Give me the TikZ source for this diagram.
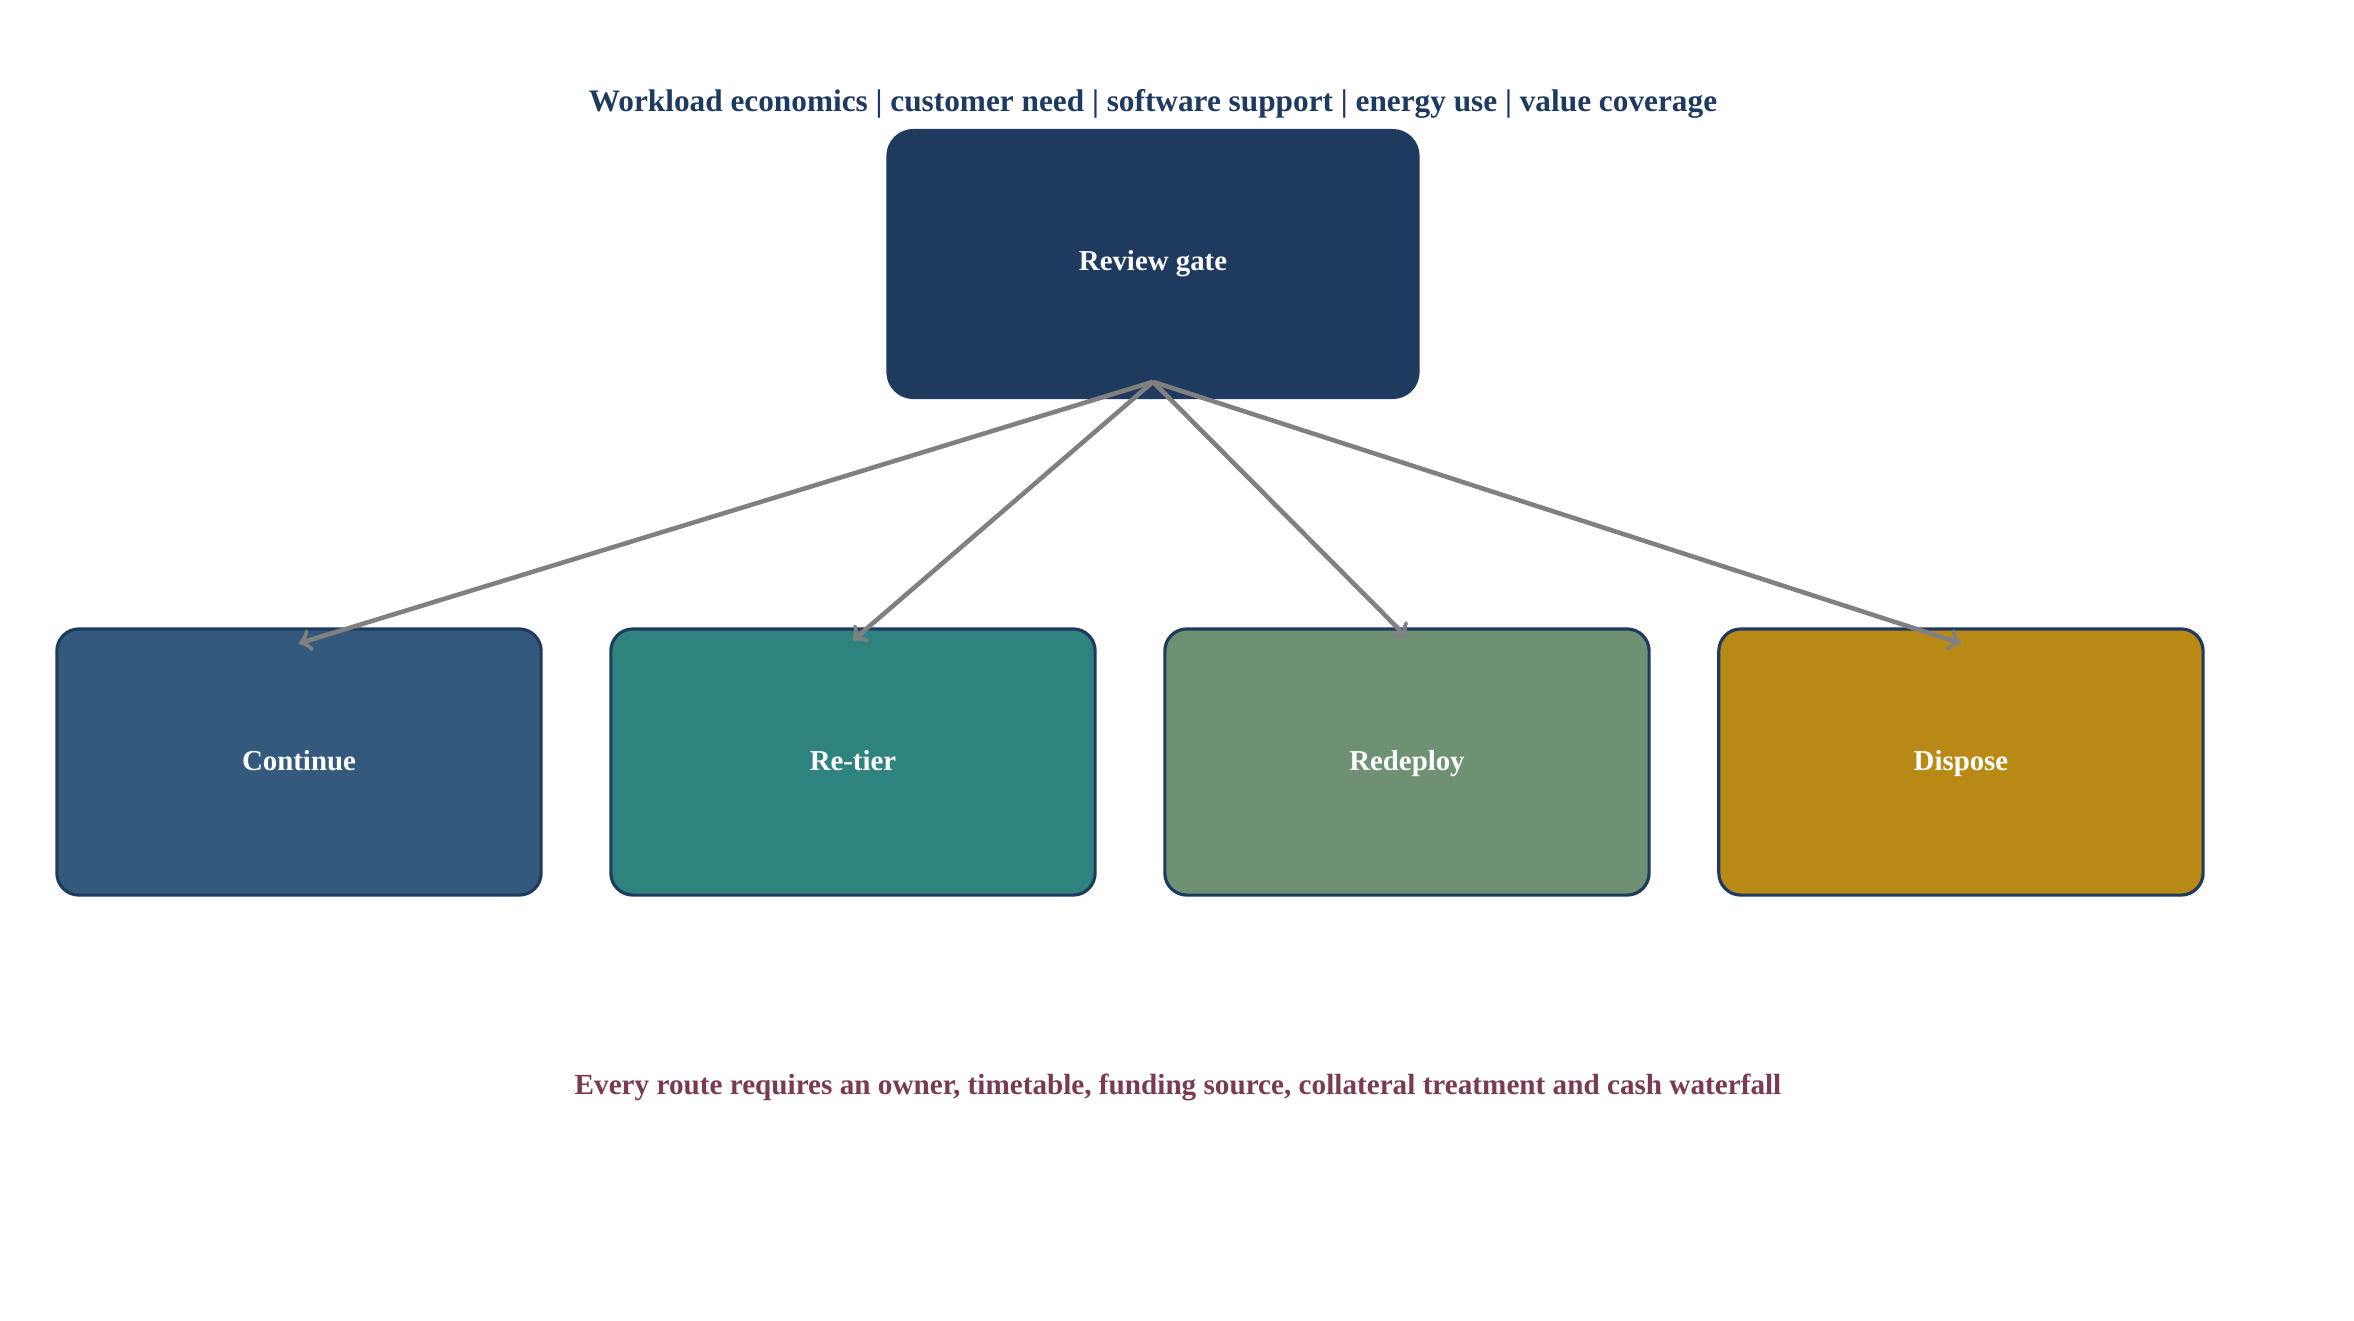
\documentclass[tikz,border=0pt]{standalone}
\usepackage{fontspec}
\setmainfont{Liberation Serif}
\usetikzlibrary{positioning,calc}
\definecolor{gatecolor}{RGB}{31,58,95}
\definecolor{continuecolor}{RGB}{51,90,125}
\definecolor{retiercolor}{RGB}{46,131,127}
\definecolor{redeploycolor}{RGB}{110,145,115}
\definecolor{disposecolor}{RGB}{185,137,22}
\definecolor{footcolor}{RGB}{122,59,82}
\begin{document}
\begin{tikzpicture}[x=0.01cm,y=-0.01cm,
	route/.style={draw=gatecolor, line width=0.9pt, rounded corners=0.22cm,
		minimum width=4.84cm, minimum height=2.66cm, text=white,
		text height=1.6ex, text depth=0.5ex,
		font=\fontsize{8.2}{10}\selectfont\bfseries},
	link/.style={->, draw=gray, line width=1.3pt}
	]
\useasboundingbox (0,0) rectangle (2354,1320);

% header and gate
\node[text=gatecolor, font=\fontsize{8.9}{11}\selectfont\bfseries] (title) at (1153,104)
	{Workload economics | customer need | software support | energy use | value coverage};
\node[fill=gatecolor, rounded corners=0.27cm, minimum width=5.33cm, minimum height=2.70cm,
	text=white, font=\fontsize{8.2}{10}\selectfont\bfseries] (gate) at (1153,264) {Review gate};

% routes
\node[route, fill=continuecolor] (cont) at (299,762) {Continue};
\node[route, fill=retiercolor, right=0.665cm of cont] (retier) {Re-tier};
\node[route, fill=redeploycolor, right=0.665cm of retier] (redeploy) {Redeploy};
\node[route, fill=disposecolor, right=0.665cm of redeploy] (dispose) {Dispose};

\node[text=footcolor, font=\fontsize{8.3}{10}\selectfont\bfseries] (foot) at (1178,1087)
	{Every route requires an owner, timetable, funding source, collateral treatment and cash waterfall};

% connectors
\coordinate (gate-out) at ([yshift=0.18cm]gate.south);
\coordinate (cont-in) at ([yshift=-0.16cm]cont.north);
\coordinate (retier-in) at ([yshift=-0.13cm]retier.north);
\coordinate (redeploy-in) at ([yshift=-0.10cm]redeploy.north);
\coordinate (dispose-in) at ([yshift=-0.16cm]dispose.north);
\draw[link] (gate-out) -- (cont-in);
\draw[link] (gate-out) -- (retier-in);
\draw[link] (gate-out) -- (redeploy-in);
\draw[link] (gate-out) -- (dispose-in);
\end{tikzpicture}
\end{document}
